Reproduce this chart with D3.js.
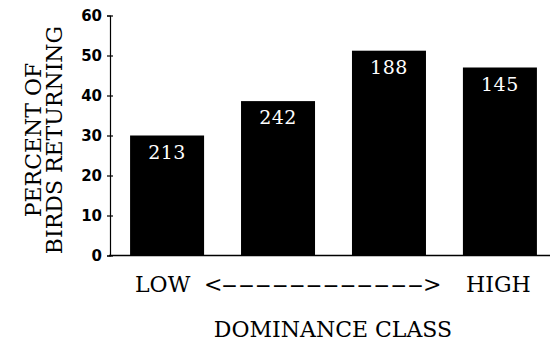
<!DOCTYPE html>
<html>
<head>
<meta charset="utf-8">
<script src="https://cdn.jsdelivr.net/npm/d3@7"></script>
<style>
  html, body { margin: 0; padding: 0; background: #fff; }
  svg { display: block; }
</style>
</head>
<body>
<svg id="chart" width="550" height="349"></svg>
<script>
// Dominance classes, percent of birds returning, and sample sizes per class
const classes = ["1", "2", "3", "4"];
const percentReturning = [30.0, 38.6, 51.2, 47.0];
const sampleSizes = [213, 242, 188, 145];
const yTicks = [0, 10, 20, 30, 40, 50, 60];

const svg = d3.select("#chart");
const serif = "'DejaVu Serif', serif";
const sans = "'DejaVu Sans', sans-serif";

const y = d3.scaleLinear().domain([0, 60]).range([255.5, 15.5]);
const x = d3.scaleBand().domain(classes).range([109, 558])
  .paddingInner(0.333).paddingOuter(0.19);

// bars
svg.append("g").selectAll("rect")
  .data(percentReturning)
  .join("rect")
  .attr("x", (d, i) => x(classes[i]))
  .attr("width", x.bandwidth())
  .attr("y", d => y(d))
  .attr("height", d => y(0) - y(d))
  .attr("fill", "#000");

// sample size inside each bar
svg.append("g").selectAll("text")
  .data(percentReturning)
  .join("text")
  .attr("x", (d, i) => x(classes[i]) + x.bandwidth() / 2)
  .attr("y", d => y(d) + 23)
  .attr("text-anchor", "middle")
  .attr("fill", "#fff")
  .style("font-family", serif)
  .style("font-size", "19px")
  .style("letter-spacing", "0.5px")
  .text((d, i) => sampleSizes[i]);

// baseline
svg.append("line")
  .attr("x1", 109).attr("x2", 550)
  .attr("y1", y(0)).attr("y2", y(0))
  .attr("stroke", "#000").attr("stroke-width", 1.5);

// y axis
const yAxis = d3.axisLeft(y).tickValues(yTicks).tickSize(3).tickPadding(5);
const gy = svg.append("g").attr("transform", "translate(110,0)").call(yAxis);
gy.select(".domain").attr("stroke-width", 1.2);
gy.selectAll(".tick line").attr("x2", 3).attr("x1", -3).attr("stroke-width", 1.2);
gy.selectAll(".tick text")
  .attr("x", -8)
  .style("font-family", sans)
  .style("font-weight", "bold")
  .style("font-size", "15px")
  .attr("fill", "#000");

// y title, two lines
const yTitle = svg.append("text")
  .attr("transform", "translate(41,140) rotate(-90)")
  .attr("text-anchor", "middle")
  .style("font-family", serif)
  .style("font-size", "22px")
  .attr("fill", "#000");
yTitle.append("tspan").attr("x", 0).attr("dy", 0).text("PERCENT OF");
yTitle.append("tspan").attr("x", 0).attr("dy", 21).text("BIRDS RETURNING");

// low-to-high scale under the bars
const scaleText = svg.append("text")
  .attr("y", 292)
  .style("font-family", serif)
  .style("font-size", "22px")
  .attr("fill", "#000");
scaleText.append("tspan").attr("x", 135).text("LOW");
scaleText.append("tspan").attr("x", 204).text("<");
scaleText.append("tspan").attr("x", 221)
  .attr("textLength", 203).attr("lengthAdjust", "spacingAndGlyphs")
  .text("------------");
scaleText.append("tspan").attr("x", 423).text(">");
scaleText.append("tspan").attr("x", 466).text("HIGH");

svg.append("text")
  .attr("x", 333).attr("y", 337)
  .attr("text-anchor", "middle")
  .style("font-family", serif)
  .style("font-size", "22px")
  .attr("fill", "#000")
  .text("DOMINANCE CLASS");
</script>
</body>
</html>
